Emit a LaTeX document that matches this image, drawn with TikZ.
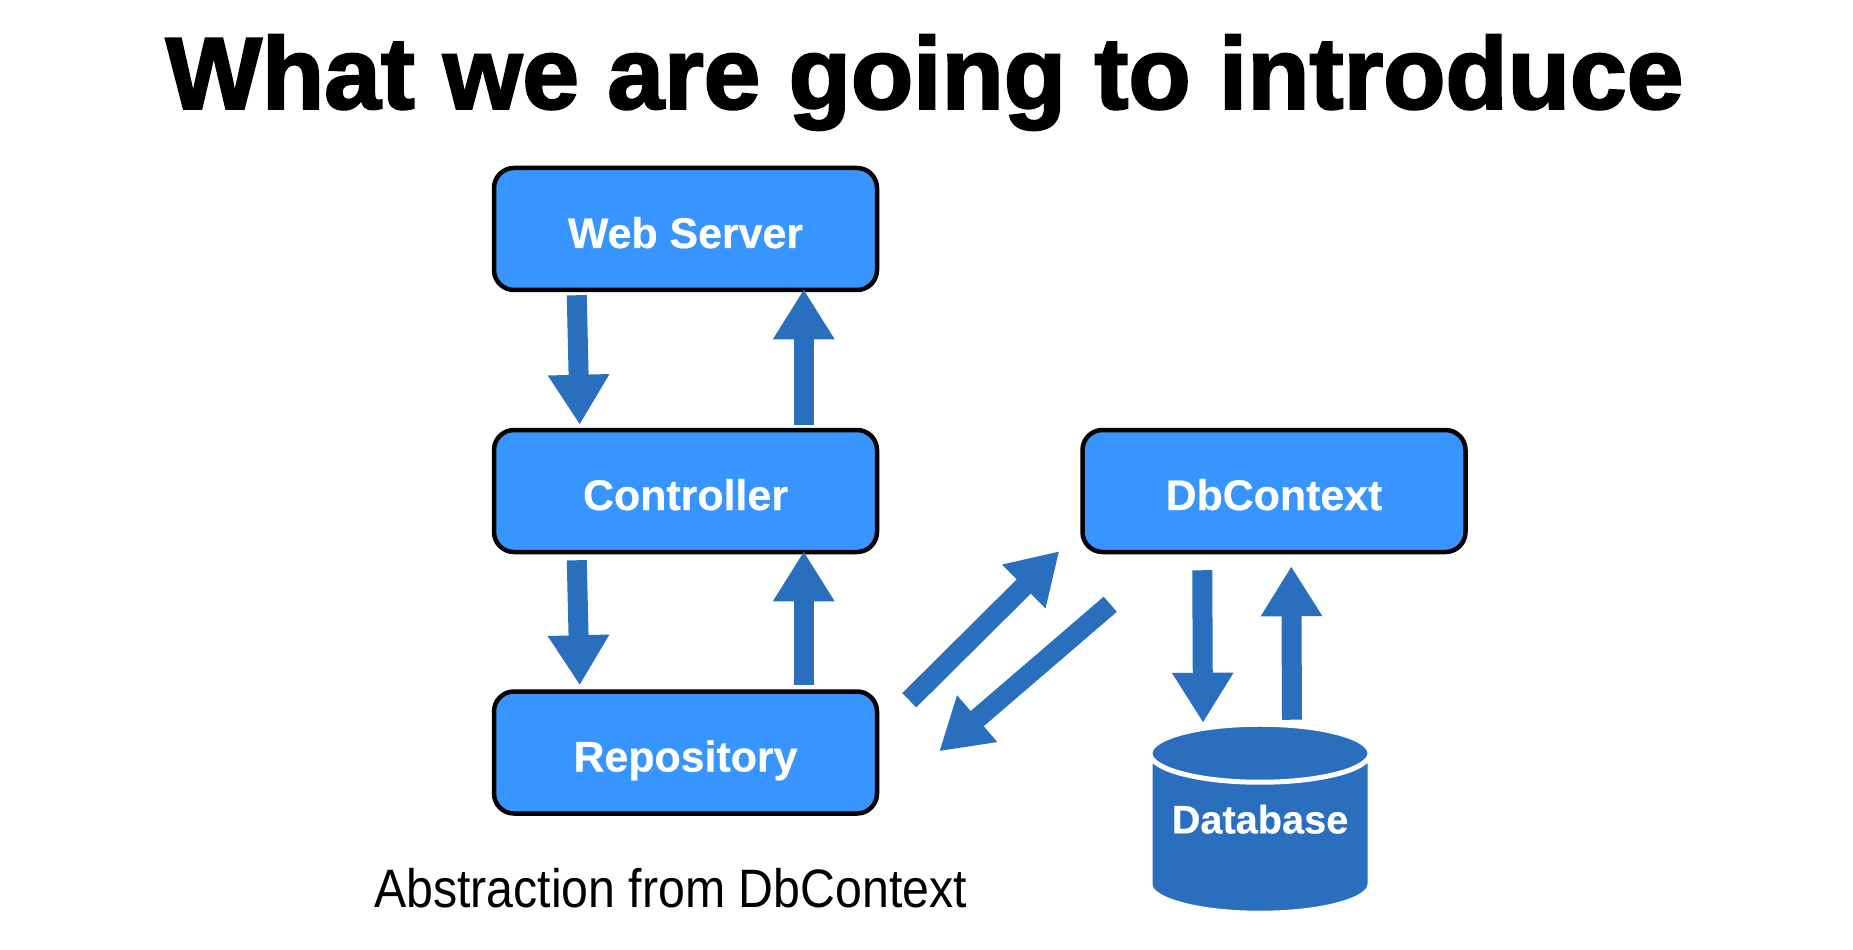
\documentclass[tikz,border=0pt]{standalone}
\usepackage{fontspec}
\setmainfont{Liberation Sans}
\newfontfamily\headfont[BoldFeatures={FakeBold=2.2}]{Liberation Sans}
\newfontfamily\boxface[BoldFeatures={FakeBold=0.5}]{Liberation Sans}
\newfontfamily\noteface[FakeStretch=0.892]{Liberation Sans}
\usetikzlibrary{shapes.geometric,arrows.meta,calc}
\definecolor{boxblue}{RGB}{56,149,255}
\definecolor{linkblue}{RGB}{42,110,190}
\tikzstyle{cloud} = [draw=black, fill=boxblue, rectangle, rounded corners=0.2cm, line width=0.045cm,
minimum width=3.83cm, minimum height=1.22cm, text=white, text height=0.38cm, text depth=0cm,
font=\fontsize{12.2}{14}\boxface\bfseries\selectfont]
\tikzstyle{line} = [draw=linkblue, line width=0.20cm, -{Triangle[length=0.50cm,width=0.58cm]}]
\begin{document}
\begin{tikzpicture}
		\useasboundingbox (0,0) rectangle (18.53,9.49);
		\node [font=\fontsize{29}{32}\headfont\bfseries\selectfont] (title) at (9.245,8.665) {What we are going to introduce};
		\node [cloud] (web) at (6.855,7.20) {Web Server};
		\node [cloud] (ctrl) at (6.855,4.58) {Controller};
		\node [cloud] (repo) at (6.855,1.965) {Repository};
		\node [cloud] (dbctx) at (12.74,4.58) {DbContext};
		\node [cylinder, shape border rotate=90, aspect=0.29, draw=white, line width=0.05cm,
			cylinder uses custom fill, cylinder end fill=linkblue, cylinder body fill=linkblue,
			minimum width=2.20cm, minimum height=1.89cm, text=white, text depth=0.44cm,
			font=\fontsize{11.3}{14}\boxface\bfseries\selectfont] (data) at (12.60,1.08) {Database};
		\node [font=\fontsize{15.4}{18}\noteface\selectfont] (note) at (6.705,0.61) {Abstraction from DbContext};
		%% Links
		\path [line] ($(web.south west)+(0.85,-0.03)$) to ($(ctrl.north west)+(0.88,0.03)$);
		\path [line] ($(ctrl.north west)+(3.12,0.03)$) to ($(web.south west)+(3.12,0.03)$);
		\path [line] ($(ctrl.south west)+(0.85,-0.06)$) to ($(repo.north west)+(0.88,0.04)$);
		\path [line] ($(repo.north west)+(3.12,0.04)$) to ($(ctrl.south west)+(3.12,0.03)$);
		\path [line] ($(repo.north east)+(0.30,-0.11)$) to ($(dbctx.south west)+(-0.21,0.03)$);
		\path [line] ($(dbctx.south west)+(0.30,-0.50)$) to ($(repo.north east)+(0.60,-0.62)$);
		\path [line] ($(dbctx.south west)+(1.22,-0.16)$) to ($(data.north)+(-0.57,-0.01)$);
		\path [line] ($(data.north)+(0.32,0.02)$) to ($(dbctx.south west)+(2.11,-0.12)$);
\end{tikzpicture}
\end{document}
